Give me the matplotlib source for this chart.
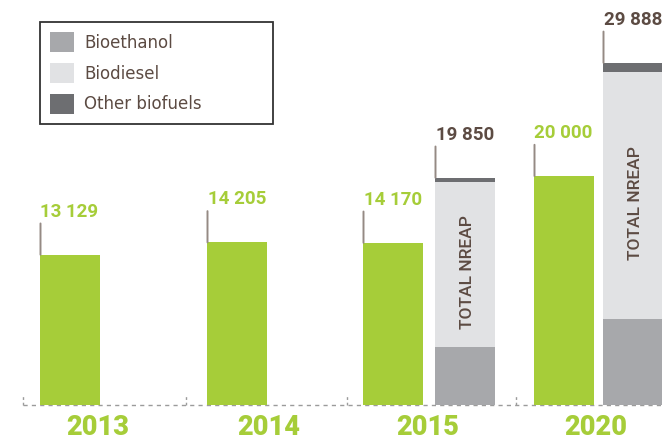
import matplotlib
matplotlib.use('Agg')
import matplotlib.pyplot as plt
import numpy as np

# biofuel consumption, achieved vs NREAP target
years = ['2013', '2014', '2015', '2020']
achieved = [13129, 14205, 14170, 20000]

nreap_years = ['2015', '2020']
bioethanol = [5070, 7510]
biodiesel = [14430, 21598]
other = [350, 780]
nreap_total = [19850, 29888]

green = '#a6cd39'
brown = '#5c4b43'
c_eth = '#a7a8ab'
c_die = '#e1e2e4'
c_oth = '#6d6e71'

fig = plt.figure(figsize=(6.62, 4.44), dpi=100)
ax = fig.add_axes([0, 0, 1, 1])
ax.set_xlim(0, 662)
ax.set_ylim(-3406, 35373)
ax.axis('off')

num_font = ['Roboto', 'DejaVu Sans']

# layout (pixel x positions)
x_green = [70, 237, 393, 564]
x_nreap = [465, 633]
w = 60
year_x = [98, 269, 428, 596]
dividers = [23, 186, 347, 516]

ax.bar(x_green, achieved, w, color=green, zorder=2)
b1 = ax.bar(x_nreap, bioethanol, w, color=c_eth, zorder=2, label='Bioethanol')
b2 = ax.bar(x_nreap, biodiesel, w, bottom=bioethanol, color=c_die, zorder=2, label='Biodiesel')
bot = np.array(bioethanol) + np.array(biodiesel)
b3 = ax.bar(x_nreap, other, w, bottom=bot, color=c_oth, zorder=2, label='Other biofuels')

def label(x, v, txt, col):
    ax.annotate(txt, xy=(x - w / 2 + 0.5, v), xytext=(0, 34), textcoords='offset pixels',
                ha='left', va='bottom', fontsize=13.5, fontweight='bold', color=col,
                family=num_font,
                arrowprops=dict(arrowstyle='-', color='#958a84', lw=1.4,
                                shrinkA=0, shrinkB=0, relpos=(0, 0)))

for x, v in zip(x_green, achieved):
    label(x, v, '{:,}'.format(v).replace(',', ' '), green)
for x, v in zip(x_nreap, nreap_total):
    label(x, v, '{:,}'.format(v).replace(',', ' '), brown)

# TOTAL NREAP vertical text
ax.text(x_nreap[0] + 2, 11650, 'TOTAL NREAP', rotation=90, ha='center', va='center',
        fontsize=12.5, fontweight='medium', color=brown, family=num_font)
ax.text(x_nreap[1] + 2, 17640, 'TOTAL NREAP', rotation=90, ha='center', va='center',
        fontsize=12.5, fontweight='medium', color=brown, family=num_font)

# dashed baseline and dividers
ax.plot([dividers[0], 662], [0, 0], ls=(0, (3, 3)), color='#9b9b9b', lw=1, zorder=1)
ax.vlines(dividers, 0, 1000, linestyles=(0, (2, 2)), color='#9b9b9b', lw=1, zorder=1)

for x, yr in zip(year_x, years):
    ax.text(x, -1950, yr, ha='center', va='center', fontsize=19.5, fontweight='heavy',
            color=green, family=num_font)

leg = ax.legend(handles=[b1, b2, b3], loc='upper left',
                bbox_to_anchor=(40 / 662, 1 - 124 / 444, 233 / 662, 102 / 444),
                mode='expand', borderaxespad=0, fancybox=False, frameon=True,
                edgecolor='black', fontsize=12, handlelength=1.4, handleheight=1.45,
                labelspacing=0.66, handletextpad=0.65, borderpad=0.62)
leg.get_frame().set_linewidth(1.3)
for t in leg.get_texts():
    t.set_color(brown)

plt.savefig('out.png', dpi=100)
